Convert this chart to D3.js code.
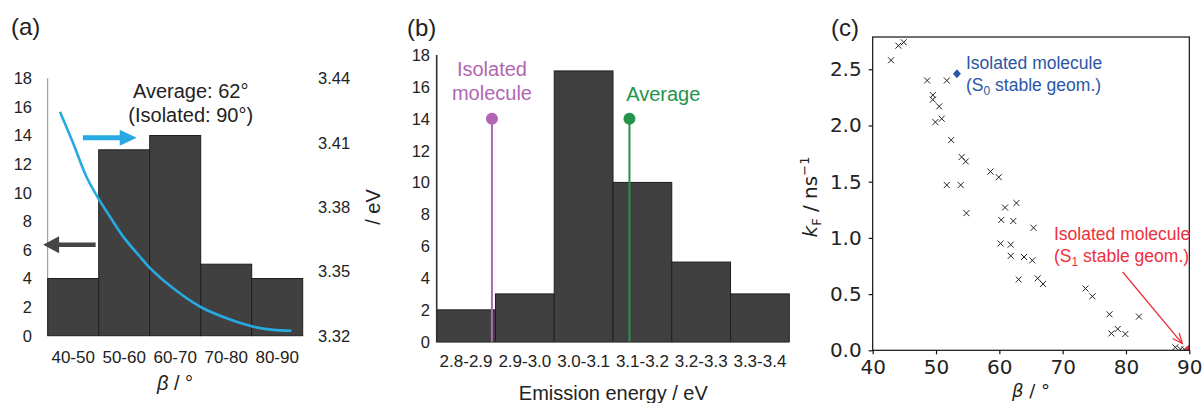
<!DOCTYPE html>
<html>
<head>
<meta charset="utf-8">
<script src="https://cdn.jsdelivr.net/npm/d3@7"></script>
<style>
  body { margin: 0; background: #fff; }
  svg { display: block; }
  text { font-family: "Liberation Sans", Arial, sans-serif; fill: #222; }
  .mpl text { font-family: "DejaVu Sans", sans-serif; }
</style>
</head>
<body>
<div class="container"></div>
<script>
const WIDTH = 1202;
const HEIGHT = 403;

// (a) dihedral angle histogram + emission energy curve
const angleBins = ["40-50", "50-60", "60-70", "70-80", "80-90"];
const angleCounts = [4, 13, 14, 5, 4];
const countTicks = [0, 2, 4, 6, 8, 10, 12, 14, 16, 18];
const energyTicks = [3.32, 3.35, 3.38, 3.41, 3.44];
const curveBeta = [42.4, 45.0, 47.6, 49.9, 52.2, 54.8, 58.1, 60.1, 64.6, 69.9, 75.1, 80.3, 84.2, 87.8];
const curveEnergy = [3.4244, 3.4097, 3.3941, 3.3841, 3.3755, 3.3662, 3.3568, 3.3514, 3.3421, 3.3335, 3.3281, 3.3242, 3.3227, 3.3223];

// (b) emission energy histogram
const emissionBins = ["2.8-2.9", "2.9-3.0", "3.0-3.1", "3.1-3.2", "3.2-3.3", "3.3-3.4"];
const emissionCounts = [2, 3, 17, 10, 5, 3];
const isolatedEnergy = 2.894;
const averageEnergy = 3.128;
const markerCount = 14;

// (c) kF vs beta scatter
const scatterBeta = [42.9, 44.05, 44.9, 48.6, 51.7, 49.5, 49.5, 50.5, 50.9, 49.9, 52.4, 54.05, 54.7, 58.6, 59.9,
  51.7, 53.9, 54.8, 62.7, 60.9, 60.3, 62.2, 65.4, 60.2, 61.8, 61.8, 63.9, 65.2, 63.05, 66.05, 66.9,
  73.6, 74.7, 77.4, 82.05, 77.7, 78.7, 79.9, 87.8, 88.6, 89.2];
const scatterKf = [2.58, 2.71, 2.74, 2.40, 2.40, 2.27, 2.23, 2.17, 2.06, 2.03, 1.87, 1.72, 1.68, 1.59, 1.54,
  1.47, 1.47, 1.22, 1.31, 1.27, 1.16, 1.15, 1.09, 0.95, 0.94, 0.84, 0.83, 0.80, 0.63, 0.64, 0.59,
  0.55, 0.48, 0.32, 0.30, 0.15, 0.19, 0.145, 0.027, 0.01, 0.008];
const isolatedS0 = [53.3, 2.46];
const isolatedS1 = [89.9, 0.01];
const kfTicks = [0, 0.5, 1.0, 1.5, 2.0, 2.5];
const betaTicks = [40, 50, 60, 70, 80, 90];

const BAR = "#404040", BAR_EDGE = "#1e1e1e";
const CYAN = "#27aae1", PURPLE = "#b066b2", GREEN = "#23944a", BLUE = "#2a56a6", RED = "#ef2f3c";

var svg = d3.select(".container").append("svg")
    .attr("width", WIDTH)
    .attr("height", HEIGHT);

// ---------- panel (a) ----------
var gA = svg.append("g");
var xA = d3.scaleBand().domain(angleBins).range([47.7, 302.7]).padding(0);
var betaA = d3.scaleLinear().domain([40, 90]).range([47.7, 302.7]);
var yA = d3.scaleLinear().domain([0, 18]).range([335.7, 78.3]);
var yE = d3.scaleLinear().domain([3.32, 3.44]).range([335.7, 78.3]);

gA.append("text").attr("x", 11).attr("y", 35).style("font-size", "24px").text("(a)");

gA.append("line")
    .attr("x1", 47.7).attr("x2", 47.7)
    .attr("y1", yA(18)).attr("y2", yA(0))
    .attr("stroke", "#8a8a8a").attr("stroke-width", 1);

gA.selectAll("rect.bar").data(angleCounts).enter().append("rect")
    .attr("class", "bar")
    .attr("x", function(d, i) { return xA(angleBins[i]); })
    .attr("width", xA.bandwidth())
    .attr("y", function(d) { return yA(d); })
    .attr("height", function(d) { return yA(0) - yA(d); })
    .attr("fill", BAR).attr("stroke", BAR_EDGE).attr("stroke-width", 1);

gA.selectAll("text.ytl").data(countTicks).enter().append("text")
    .attr("class", "ytl")
    .attr("x", 32).attr("y", function(d) { return yA(d); })
    .attr("dy", "0.36em").attr("text-anchor", "end")
    .style("font-size", "16.5px").text(function(d) { return d; });

gA.selectAll("text.ytr").data(energyTicks).enter().append("text")
    .attr("class", "ytr")
    .attr("x", 318).attr("y", function(d) { return yE(d); })
    .attr("dy", "0.36em")
    .style("font-size", "16.5px").text(function(d) { return d.toFixed(2); });

gA.selectAll("text.xtl").data(angleBins).enter().append("text")
    .attr("class", "xtl")
    .attr("x", function(d) { return xA(d) + xA.bandwidth() / 2; })
    .attr("y", 363).attr("text-anchor", "middle")
    .style("font-size", "17px").text(function(d) { return d; });

var betaLabelA = gA.append("text").attr("x", 175).attr("y", 390)
    .attr("text-anchor", "middle").style("font-size", "20px");
betaLabelA.append("tspan").style("font-style", "italic").text("β");
betaLabelA.append("tspan").text(" / °");

gA.append("text")
    .attr("transform", "translate(380," + ((yE(3.32) + yE(3.44)) / 2) + ") rotate(-90)")
    .attr("text-anchor", "middle").style("font-size", "20px").text("/ eV");

var curve = d3.line()
    .curve(d3.curveCatmullRom)
    .x(function(d, i) { return betaA(curveBeta[i]); })
    .y(function(d) { return yE(d); });
gA.append("path")
    .attr("d", curve(curveEnergy))
    .attr("fill", "none").attr("stroke", CYAN).attr("stroke-width", 2.6);

gA.append("text").attr("x", 190.7).attr("y", 97.5)
    .attr("text-anchor", "middle").style("font-size", "20px").text("Average: 62°");
gA.append("text").attr("x", 190.7).attr("y", 122)
    .attr("text-anchor", "middle").style("font-size", "20px").text("(Isolated: 90°)");

function arrow(g, x0, x1, y, color, shaft, headW, headH) {
    var dir = x1 > x0 ? 1 : -1;
    var hx = x1 - dir * headW;
    g.append("path")
        .attr("d", "M" + x0 + "," + (y - shaft / 2) + "L" + hx + "," + (y - shaft / 2) +
            "L" + hx + "," + (y - headH / 2) + "L" + x1 + "," + y +
            "L" + hx + "," + (y + headH / 2) + "L" + hx + "," + (y + shaft / 2) +
            "L" + x0 + "," + (y + shaft / 2) + "Z")
        .attr("fill", color);
}
arrow(gA, betaA(46.9), betaA(57.45), yA(13.85), CYAN, 5, 17, 16);
arrow(gA, betaA(49.4), betaA(39.1), yA(6.36), "#454545", 4.5, 16, 17);

// ---------- panel (b) ----------
var gB = svg.append("g");
var xB = d3.scaleBand().domain(emissionBins).range([436.7, 789.3]).padding(0);
var eB = d3.scaleLinear().domain([2.8, 3.4]).range([436.7, 789.3]);
var yB = d3.scaleLinear().domain([0, 18]).range([341.7, 55]);

gB.append("text").attr("x", 407).attr("y", 36).style("font-size", "24px").text("(b)");

gB.selectAll("rect.bar").data(emissionCounts).enter().append("rect")
    .attr("class", "bar")
    .attr("x", function(d, i) { return xB(emissionBins[i]); })
    .attr("width", xB.bandwidth())
    .attr("y", function(d) { return yB(d); })
    .attr("height", function(d) { return yB(0) - yB(d); })
    .attr("fill", BAR).attr("stroke", BAR_EDGE).attr("stroke-width", 1);

gB.append("path")
    .attr("d", "M436.7," + yB(18) + "V" + yB(0) + "H789.3")
    .attr("fill", "none").attr("stroke", "#333").attr("stroke-width", 1.6);

gB.selectAll("text.ytl").data(countTicks).enter().append("text")
    .attr("class", "ytl")
    .attr("x", 430).attr("y", function(d) { return yB(d); })
    .attr("dy", "0.36em").attr("text-anchor", "end")
    .style("font-size", "16.5px").text(function(d) { return d; });

gB.selectAll("text.xtl").data(emissionBins).enter().append("text")
    .attr("class", "xtl")
    .attr("x", function(d) { return xB(d) + xB.bandwidth() / 2; })
    .attr("y", 367).attr("text-anchor", "middle")
    .style("font-size", "17px").text(function(d) { return d; });

gB.append("text").attr("x", 613.3).attr("y", 400)
    .attr("text-anchor", "middle").style("font-size", "20px").text("Emission energy / eV");

function pin(g, e, color) {
    g.append("line")
        .attr("x1", eB(e)).attr("x2", eB(e))
        .attr("y1", yB(0)).attr("y2", yB(markerCount))
        .attr("stroke", color).attr("stroke-width", 2);
    g.append("circle")
        .attr("cx", eB(e)).attr("cy", yB(markerCount)).attr("r", 6)
        .attr("fill", color);
}
pin(gB, isolatedEnergy, PURPLE);
pin(gB, averageEnergy, GREEN);

gB.append("text").attr("x", eB(isolatedEnergy)).attr("y", 76)
    .attr("text-anchor", "middle").style("font-size", "20px").style("fill", PURPLE).text("Isolated");
gB.append("text").attr("x", eB(isolatedEnergy)).attr("y", 100)
    .attr("text-anchor", "middle").style("font-size", "20px").style("fill", PURPLE).text("molecule");
gB.append("text").attr("x", 663.3).attr("y", 101)
    .attr("text-anchor", "middle").style("font-size", "20px").style("fill", GREEN).text("Average");

// ---------- panel (c) ----------
var gC = svg.append("g").attr("class", "mpl");
var xC = d3.scaleLinear().domain([40, 90]).range([872.7, 1189.3]);
var yC = d3.scaleLinear().domain([0, 2.787]).range([350.3, 37]);

svg.append("text").attr("x", 831).attr("y", 36).style("font-size", "24px").text("(c)");

svg.append("defs").append("clipPath").attr("id", "clipC")
    .append("rect").attr("x", 872.7).attr("y", 37).attr("width", 1189.3 - 872.7).attr("height", 350.3 - 37);

var plotC = gC.append("g").attr("clip-path", "url(#clipC)");

plotC.selectAll("path.cross").data(scatterKf).enter().append("path")
    .attr("class", "cross")
    .attr("transform", function(d, i) { return "translate(" + xC(scatterBeta[i]) + "," + yC(d) + ")"; })
    .attr("d", "M-3,-3L3,3M-3,3L3,-3")
    .attr("stroke", "#222").attr("stroke-width", 1);

plotC.append("path")
    .attr("transform", "translate(" + xC(isolatedS0[0]) + "," + yC(isolatedS0[1]) + ")")
    .attr("d", "M0,-4.5L4,0L0,4.5L-4,0Z").attr("fill", BLUE);
plotC.append("path")
    .attr("transform", "translate(" + xC(isolatedS1[0]) + "," + yC(isolatedS1[1]) + ")")
    .attr("d", "M0,-4.5L4,0L0,4.5L-4,0Z").attr("fill", RED);

gC.append("rect")
    .attr("x", 872.7).attr("y", 37).attr("width", 1189.3 - 872.7).attr("height", 350.3 - 37)
    .attr("fill", "none").attr("stroke", "#111").attr("stroke-width", 1.2);

gC.append("g")
    .attr("transform", "translate(0,350.3)")
    .call(d3.axisBottom(xC).tickValues(betaTicks).tickSize(4).tickPadding(6).tickFormat(d3.format("d")))
    .call(function(g) { g.select(".domain").remove(); })
    .call(function(g) {
        g.selectAll("line").attr("stroke", "#111").attr("stroke-width", 1.2);
        g.selectAll("text").style("font-size", "20px").style("fill", "#222").attr("font-family", null);
    });

gC.append("g")
    .attr("transform", "translate(872.7,0)")
    .call(d3.axisLeft(yC).tickValues(kfTicks).tickSize(4).tickPadding(7).tickFormat(d3.format(".1f")))
    .call(function(g) { g.select(".domain").remove(); })
    .call(function(g) {
        g.selectAll("line").attr("stroke", "#111").attr("stroke-width", 1.2);
        g.selectAll("text").style("font-size", "20px").style("fill", "#222").attr("font-family", null);
    });

var ylabC = gC.append("text")
    .attr("transform", "translate(817," + 197 + ") rotate(-90)")
    .attr("text-anchor", "middle").style("font-size", "20px");
ylabC.append("tspan").style("font-style", "italic").text("k");
ylabC.append("tspan").attr("dy", 4).style("font-size", "13px").text("F");
ylabC.append("tspan").attr("dy", -4).text(" / ns");
ylabC.append("tspan").attr("dy", -8).style("font-size", "13px").text("−1");

// the reference shows this label partly below the frame; kept just inside
var xlabC = gC.append("text").attr("x", 1031).attr("y", 397)
    .attr("text-anchor", "middle").style("font-size", "18px");
xlabC.append("tspan").style("font-style", "italic").text("β");
xlabC.append("tspan").text(" / °");

// annotations in (c)
var s0 = svg.append("text").attr("x", 966).attr("y", 69).style("font-size", "17.5px").style("fill", BLUE);
s0.text("Isolated molecule");
var s0b = svg.append("text").attr("x", 966).attr("y", 91).style("font-size", "17.5px").style("fill", BLUE);
s0b.append("tspan").text("(S");
s0b.append("tspan").attr("dy", 4).style("font-size", "12px").text("0");
s0b.append("tspan").attr("dy", -4).text(" stable geom.)");

svg.append("text").attr("x", 1054).attr("y", 240).style("font-size", "17.5px").style("fill", RED)
    .text("Isolated molecule");
var s1b = svg.append("text").attr("x", 1054).attr("y", 262).style("font-size", "17.5px").style("fill", RED);
s1b.append("tspan").text("(S");
s1b.append("tspan").attr("dy", 4).style("font-size", "12px").text("1");
s1b.append("tspan").attr("dy", -4).text(" stable geom.)");

var ax0 = 1122.7, ay0 = 272, ax1 = xC(88.9), ay1 = yC(0.06);
svg.append("line").attr("x1", ax0).attr("y1", ay0).attr("x2", ax1).attr("y2", ay1)
    .attr("stroke", RED).attr("stroke-width", 1.3);
var ang = Math.atan2(ay1 - ay0, ax1 - ax0);
var hl = 11, ha = 0.4;
svg.append("path")
    .attr("d", "M" + (ax1 - hl * Math.cos(ang - ha)) + "," + (ay1 - hl * Math.sin(ang - ha)) +
        "L" + ax1 + "," + ay1 +
        "L" + (ax1 - hl * Math.cos(ang + ha)) + "," + (ay1 - hl * Math.sin(ang + ha)))
    .attr("fill", "none").attr("stroke", RED).attr("stroke-width", 1.3);
</script>
</body>
</html>
